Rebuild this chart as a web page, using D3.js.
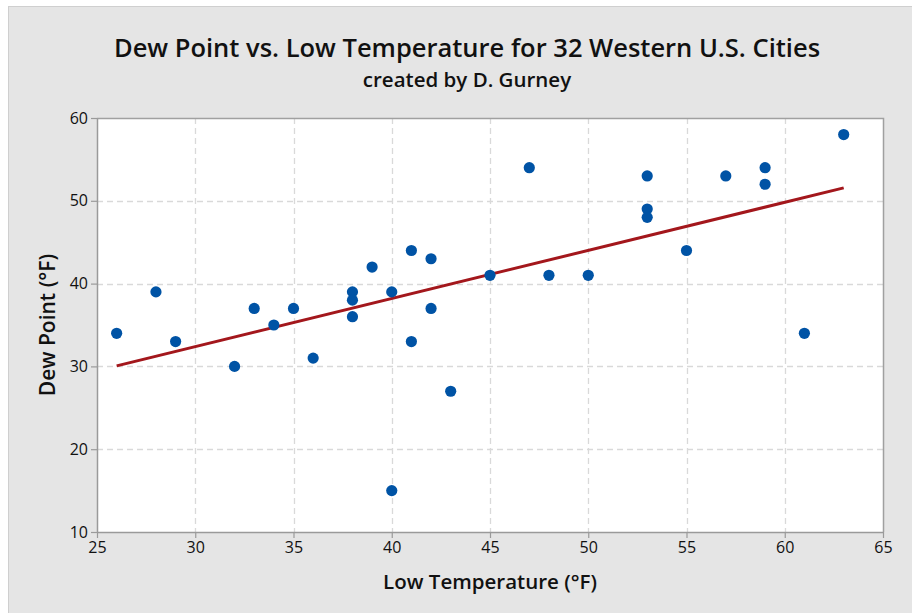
<!DOCTYPE html>
<html><head><meta charset="utf-8">
<script src="https://cdn.jsdelivr.net/npm/d3@7"></script>
<style>body{margin:0;background:#fff;} svg{display:block;}</style>
</head><body>
<script>
const lowTemp  = [26,28,29,32,33,34,35,36,38,38,38,39,40,40,41,41,42,42,43,45,47,48,50,53,53,53,55,57,59,59,61,63];
const dewPoint = [34,39,33,30,37,35,37,31,39,38,36,42,39,15,44,33,43,37,27,41,54,41,41,53,49,48,44,53,54,52,34,58];
const xTicks = [25,30,35,40,45,50,55,60,65];
const yTicks = [10,20,30,40,50,60];
const titleText = "Dew Point vs. Low Temperature for 32 Western U.S. Cities";
const subtitleText = "created by D. Gurney";
const xLabel = "Low Temperature (°F)";
const yLabel = "Dew Point (°F)";

const W = 912, H = 613;
const m = {left: 97, top: 118, right: 883, bottom: 532};
const font = "'Open Sans', sans-serif";

const svg = d3.select("body").append("svg").attr("width", W).attr("height", H);
svg.append("rect").attr("x", 8.5).attr("y", 6.5).attr("width", 930).attr("height", 620)
  .attr("fill", "#e5e5e5").attr("stroke", "#cfcfcf");

const x = d3.scaleLinear().domain([25, 65]).range([m.left, m.right]);
const y = d3.scaleLinear().domain([10, 60]).range([m.bottom, m.top]);

svg.append("rect").attr("x", m.left).attr("y", m.top).attr("width", m.right - m.left)
  .attr("height", m.bottom - m.top).attr("fill", "#fff");

// grid
const g = svg.append("g");
g.selectAll(".gx").data(xTicks.slice(1, -1)).join("line")
  .attr("x1", d => Math.round(x(d)) + 0.5).attr("x2", d => Math.round(x(d)) + 0.5)
  .attr("y1", m.top).attr("y2", m.bottom)
  .attr("stroke", "#d9d9d9").attr("stroke-width", 1.3).attr("stroke-dasharray", "6,4");
g.selectAll(".gy").data(yTicks.slice(1, -1)).join("line")
  .attr("y1", d => Math.round(y(d)) + 0.5).attr("y2", d => Math.round(y(d)) + 0.5)
  .attr("x1", m.left).attr("x2", m.right)
  .attr("stroke", "#d9d9d9").attr("stroke-width", 1.3).attr("stroke-dasharray", "6,4");

// border top/right
svg.append("path").attr("d", `M${m.left},${m.top + 0.5}H${m.right + 0.5}V${m.bottom}`)
  .attr("fill", "none").attr("stroke", "#a0a0a0").attr("stroke-width", 1.5);

// axes
const xAxis = svg.append("g").attr("transform", `translate(0,${m.bottom})`)
  .call(d3.axisBottom(x).tickValues(xTicks).tickSize(6).tickPadding(4).tickSizeOuter(0));
const yAxis = svg.append("g").attr("transform", `translate(${m.left},0)`)
  .call(d3.axisLeft(y).tickValues(yTicks).tickSize(6).tickPadding(3).tickSizeOuter(0));
[xAxis, yAxis].forEach(a => {
  a.select(".domain").attr("stroke", "#9a9a9a").attr("stroke-width", 1.5);
  a.selectAll(".tick line").attr("stroke", "#9a9a9a").attr("stroke-width", 1.2);
  a.selectAll("text").attr("fill", "#111").style("font-family", font).style("font-size", "16px").style("font-weight", 500);
});

// regression line (least squares from data)
const n = lowTemp.length;
const mx = d3.mean(lowTemp), my = d3.mean(dewPoint);
let sxy = 0, sxx = 0;
for (let i = 0; i < n; i++) { sxy += (lowTemp[i] - mx) * (dewPoint[i] - my); sxx += (lowTemp[i] - mx) ** 2; }
const slope = sxy / sxx, icpt = my - slope * mx;
const xr = d3.extent(lowTemp);
svg.append("line")
  .attr("x1", x(xr[0])).attr("y1", y(icpt + slope * xr[0]))
  .attr("x2", x(xr[1])).attr("y2", y(icpt + slope * xr[1]))
  .attr("stroke", "#a3171c").attr("stroke-width", 3);

// points
svg.selectAll(".pt").data(lowTemp.map((v, i) => [v, dewPoint[i]])).join("circle")
  .attr("cx", d => x(d[0])).attr("cy", d => y(d[1])).attr("r", 5.6).attr("fill", "#0053a5");

// titles
svg.append("text").attr("x", 467).attr("y", 57).attr("text-anchor", "middle")
  .style("font-family", font).style("font-size", "25.5px").style("font-weight", 600).attr("fill", "#111")
  .text(titleText);
svg.append("text").attr("x", 467).attr("y", 87).attr("text-anchor", "middle")
  .style("font-family", font).style("font-size", "20.5px").style("font-weight", 600).attr("fill", "#111")
  .text(subtitleText);
svg.append("text").attr("x", (m.left + m.right) / 2).attr("y", 589).attr("text-anchor", "middle")
  .style("font-family", font).style("font-size", "20.5px").style("font-weight", 600).attr("fill", "#111")
  .text(xLabel);
svg.append("text").attr("transform", `translate(55,${(m.top + m.bottom) / 2}) rotate(-90)`).attr("text-anchor", "middle")
  .style("font-family", font).style("font-size", "21px").style("font-weight", 600).attr("fill", "#111")
  .text(yLabel);
</script>
</body></html>
